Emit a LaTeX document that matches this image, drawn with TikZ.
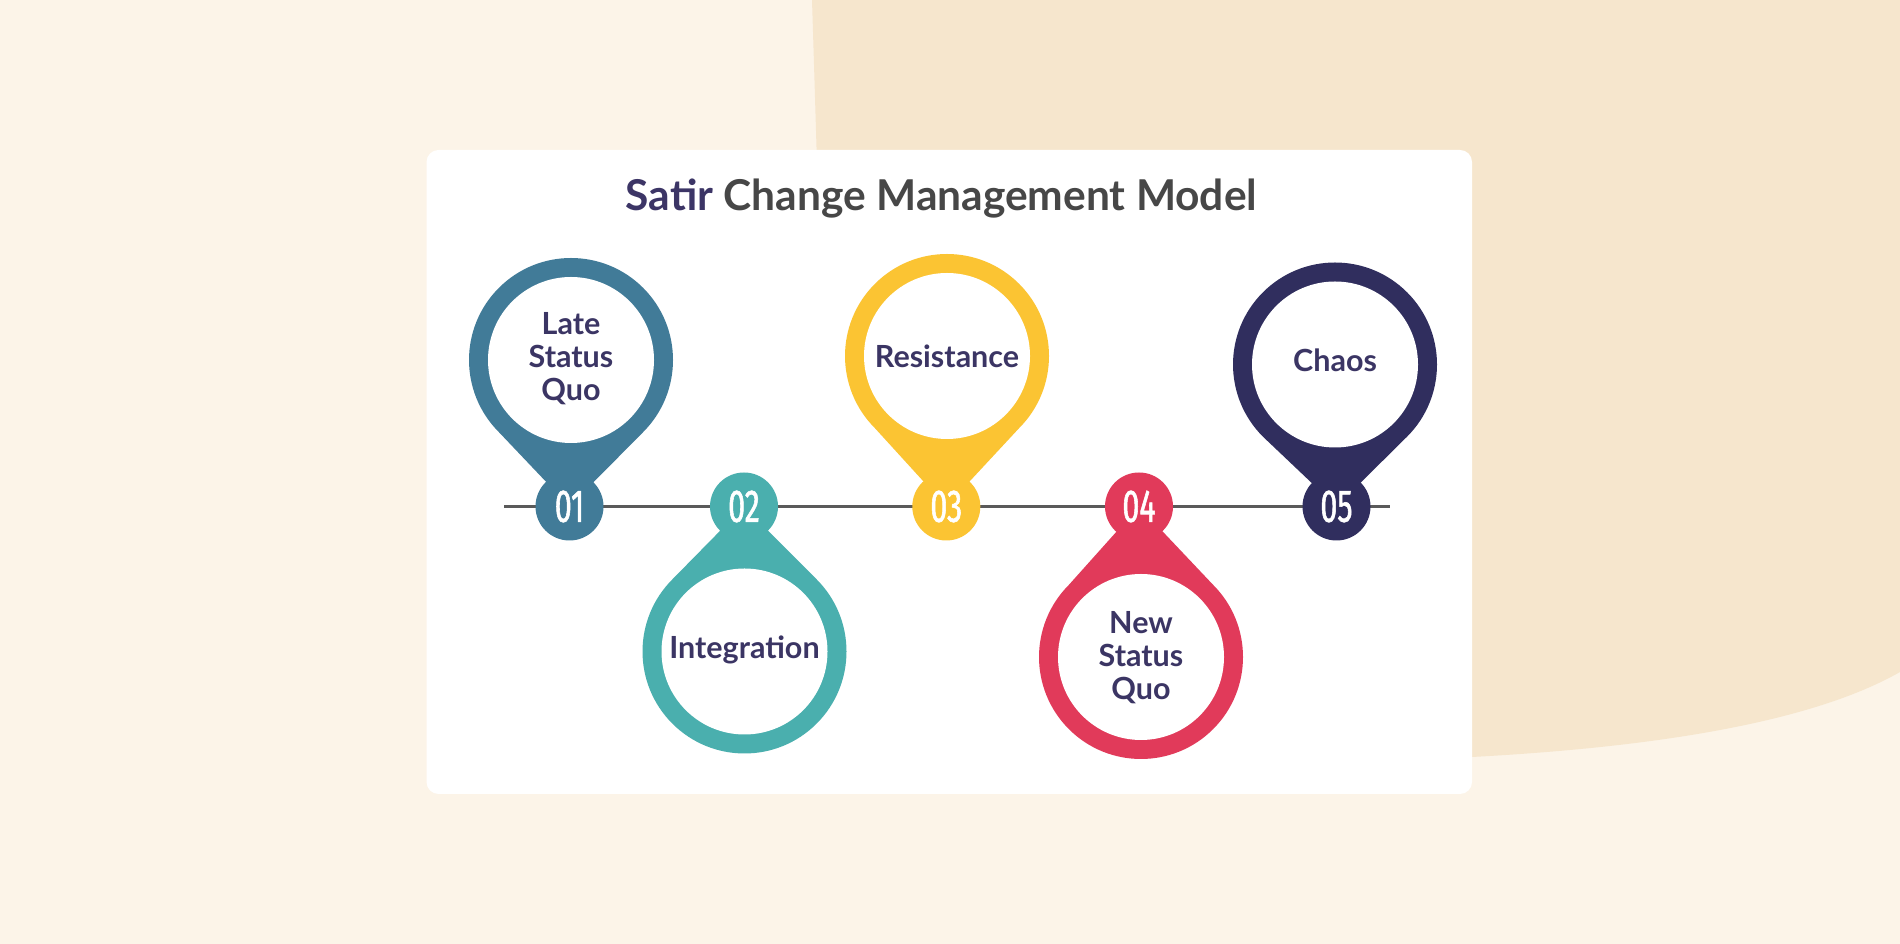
\documentclass[tikz,border=0pt]{standalone}
\usepackage{fontspec}
\setmainfont{Lato}
\newfontfamily\numfont[FakeStretch=0.66,FakeBold=1.2]{Fira Sans}
\usetikzlibrary{calc}
\definecolor{bgcream}{HTML}{FCF4E8}
\definecolor{blobc}{HTML}{F6E6CD}
\definecolor{cA}{HTML}{417B98}
\definecolor{cB}{HTML}{4AAFAE}
\definecolor{cC}{HTML}{FBC433}
\definecolor{cD}{HTML}{E13A5A}
\definecolor{cE}{HTML}{302E5E}
\definecolor{labelc}{HTML}{3B3564}
\definecolor{satirc}{HTML}{3C3566}
\definecolor{titlegray}{HTML}{474747}
\definecolor{linegray}{HTML}{5A5A5A}
\begin{document}
\begin{tikzpicture}[x=1pt,y=1pt,
  numbox/.style={circle, inner sep=0pt, minimum size=68pt, text=white,
    font=\numfont\fontsize{46}{46}\selectfont},
  labelbox/.style={align=center, text=labelc, inner sep=0pt,
    font=\bfseries\fontsize{30.5}{33}\selectfont},
  timeline/.style={draw=linegray, line width=3.5pt},
]
% background
\fill[bgcream] (0,0) rectangle (1900,944);
\useasboundingbox (0,0) rectangle (1900,944);
\fill[blobc] (812,944) .. controls (814,880) .. (817,780) -- (900,200) -- (1472,187)
  .. controls (1620,195) and (1800,215) .. (1900,272) -- (1900,944) -- cycle;
% card
\fill[white, rounded corners=12pt] (426.5,150) rectangle (1472,794);
% title
\node[anchor=base, font=\bfseries\fontsize{42.5}{48}\selectfont] (title) at (941.5,733)
  {\textcolor{satirc}{Satir} \textcolor{titlegray}{Change Management Model}};
% timeline
\coordinate (tl) at (504,437.5);
\coordinate (tr) at (1390,437.5);
\draw[timeline] (tl) -- (tr);
% ring centres
\coordinate (r1) at (571,584);
\coordinate (r2) at (744.5,292.5);
\coordinate (r3) at (947,588);
\coordinate (r4) at (1141,287);
\coordinate (r5) at (1335,579.5);
% number anchors
\coordinate (a1) at (569.5,437.5);
\coordinate (a2) at (744,437.5);
\coordinate (a3) at (946.3,437.5);
\coordinate (a4) at (1139,437.5);
\coordinate (a5) at (1336.5,437.5);
% pins (top)
\fill[cA] (a1) -- ($(r1)+(225:102)$) arc[start angle=225,end angle=-45,radius=102] -- cycle;
\fill[white] (r1) circle (83);
\fill[cC] (a3) -- ($(r3)+(225:102)$) arc[start angle=225,end angle=-45,radius=102] -- cycle;
\fill[white] (r3) circle (83);
\fill[cE] (a5) -- ($(r5)+(225:102)$) arc[start angle=225,end angle=-45,radius=102] -- cycle;
\fill[white] (r5) circle (83);
% pins (bottom)
\fill[cB] (a2) -- ($(r2)+(135:102)$) arc[start angle=135,end angle=405,radius=102] -- cycle;
\fill[white] (r2) circle (83);
\fill[cD] (a4) -- ($(r4)+(135:102)$) arc[start angle=135,end angle=405,radius=102] -- cycle;
\fill[white] (r4) circle (83);
% numbers
\node[numbox, fill=cA] (n1) at (a1) {01};
\node[numbox, fill=cB] (n2) at (a2) {02};
\node[numbox, fill=cC] (n3) at (a3) {03};
\node[numbox, fill=cD] (n4) at (a4) {04};
\node[numbox, fill=cE] (n5) at (a5) {05};
% labels
\node[labelbox] (l1) at (571,585) {Late\\Status\\Quo};
\node[labelbox] (l2) at (744.5,294) {Integration};
\node[labelbox] (l3) at (947,588) {Resistance};
\node[labelbox] (l4) at (1141,286) {New\\Status\\Quo};
\node[labelbox] (l5) at (1335,584) {Chaos};
\end{tikzpicture}
\end{document}
